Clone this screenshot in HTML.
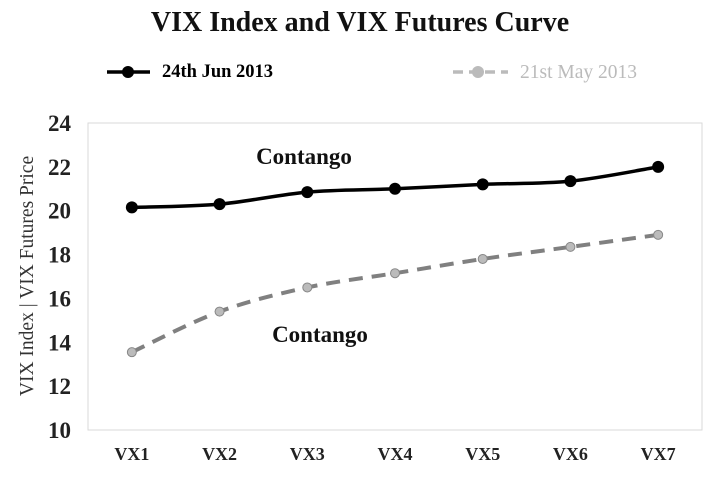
<!DOCTYPE html>
<html><head><meta charset="utf-8"><style>
body{margin:0;background:#fff}
svg{display:block;font-family:"Liberation Serif",serif}
</style></head><body>
<svg width="720" height="486" viewBox="0 0 720 486">
<text x="360" y="31" text-anchor="middle" font-size="28" font-weight="bold" fill="#111">VIX Index and VIX Futures Curve</text>
<g>
<line x1="107" y1="72" x2="150" y2="72" stroke="#000" stroke-width="3.5"/>
<circle cx="128" cy="72" r="6" fill="#000"/>
<text x="162" y="77" font-size="18.5" font-weight="bold" fill="#000">24th Jun 2013</text>
</g>
<g>
<line x1="453" y1="72" x2="508" y2="72" stroke="#bbb" stroke-width="3.5" stroke-dasharray="10,6"/>
<circle cx="478" cy="72" r="6" fill="#bbb"/>
<text x="520" y="78" font-size="19.5" fill="#bbb">21st May 2013</text>
</g>
<rect x="88" y="123" width="614" height="307" fill="none" stroke="#d9d9d9" stroke-width="1"/>
<text transform="translate(33,276) rotate(-90)" text-anchor="middle" font-size="19.5" fill="#333">VIX Index  |  VIX Futures Price</text>
<g id="yt"></g><g id="xt"></g><g id="series"></g>
<text x="304" y="164" text-anchor="middle" font-size="23" font-weight="bold" fill="#111">Contango</text>
<text x="320" y="342" text-anchor="middle" font-size="23" font-weight="bold" fill="#111">Contango</text>
</svg>
<script>
const categories=["VX1","VX2","VX3","VX4","VX5","VX6","VX7"];
const junValues=[20.15,20.3,20.85,21.0,21.2,21.35,22.0];
const mayValues=[13.55,15.4,16.5,17.15,17.8,18.35,18.9];
const yTicks=[10,12,14,16,18,20,22,24];
const NS="http://www.w3.org/2000/svg";
const x0=88,w=614,yTop=123,yBot=430,yMin=10,yMax=24;
const xs=i=>x0+w/categories.length*(i+0.5);
const ys=v=>yBot-(v-yMin)/(yMax-yMin)*(yBot-yTop);
function mk(t,a,p){const e=document.createElementNS(NS,t);for(const k in a)e.setAttribute(k,a[k]);p.appendChild(e);return e;}
const yt=document.getElementById('yt');
yTicks.forEach(v=>{const t=mk('text',{x:71,y:ys(v)+8,'text-anchor':'end','font-size':23,'font-weight':'bold',fill:'#222'},yt);t.textContent=v;

});
const xt=document.getElementById('xt');
categories.forEach((c,i)=>{const t=mk('text',{x:xs(i),y:460,'text-anchor':'middle','font-size':18,'font-weight':'bold',fill:'#222'},xt);t.textContent=c;

});
function smooth(vals){const p=vals.map((v,i)=>[xs(i),ys(v)]);let d=`M${p[0][0]},${p[0][1]}`;
for(let i=0;i<p.length-1;i++){const a=p[Math.max(0,i-1)],b=p[i],c=p[i+1],e=p[Math.min(p.length-1,i+2)];const k=1/6;
d+=` C${b[0]+(c[0]-a[0])*k},${b[1]+(c[1]-a[1])*k} ${c[0]-(e[0]-b[0])*k},${c[1]-(e[1]-b[1])*k} ${c[0]},${c[1]}`;}return d;}
const s=document.getElementById('series');
const lm=mk('path',{d:smooth(mayValues),fill:'none',stroke:'#808080','stroke-width':4,'stroke-dasharray':'14,9'},s);


mayValues.forEach((v,i)=>{const c=mk('circle',{cx:xs(i),cy:ys(v),r:4.5,fill:'#bbb',stroke:'#888','stroke-width':1},s);

});
const lj=mk('path',{d:smooth(junValues),fill:'none',stroke:'#000','stroke-width':3.5},s);


junValues.forEach((v,i)=>{const c=mk('circle',{cx:xs(i),cy:ys(v),r:6,fill:'#000'},s);

});
</script>
</body></html>
